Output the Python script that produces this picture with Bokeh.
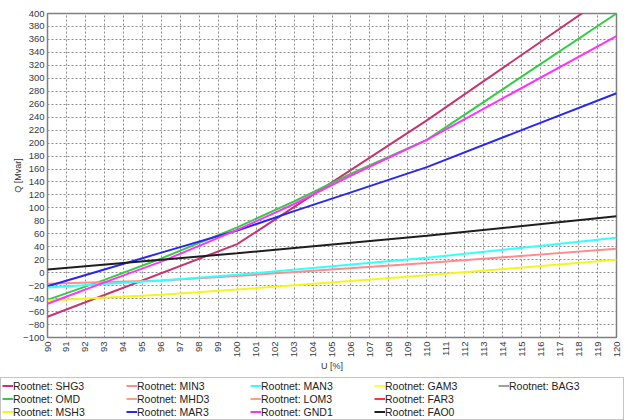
from bokeh.plotting import figure
from bokeh.layouts import column
from bokeh.models import Legend, LegendItem, FixedTicker, Range1d
from bokeh.embed import file_html
from bokeh.resources import INLINE

# ---- data ----
u_shg3 = [90, 100, 110, 120]
q_shg3 = [-68, 44, 235, 437]

u_omd = [90, 93, 96, 100, 103, 106, 110, 120]
q_omd = [-42, -11, 22, 70, 110, 153, 205, 400]

u_msh3 = [90, 96, 100, 110, 120]
q_msh3 = [-43, -34, -26, -4, 20]

u_min3 = [90, 96, 100, 110, 120]
q_min3 = [-17, -12, -5, 15, 37]

u_mhd3, q_mhd3 = [], []

u_mar3 = [90, 93, 96, 100, 103, 106, 110, 115, 120]
q_mar3 = [-21, 5, 31, 65, 95, 124, 163, 220, 277]

u_man3 = [90, 96, 100, 110, 120]
q_man3 = [-23, -12, -3, 23, 54]

u_lom3, q_lom3 = [], []

u_gnd1 = [90, 93, 96, 100, 103, 106, 110, 120]
q_gnd1 = [-48, -15, 17, 66, 106, 150, 205, 365]

u_gam3, q_gam3 = [], []
u_far3, q_far3 = [], []

u_fao0 = [90, 96, 100, 110, 120]
q_fao0 = [5, 20, 30, 57, 87]

u_bag3, q_bag3 = [], []

series = [
    ("Rootnet: SHG3", u_shg3, q_shg3, "#c8346e"),
    ("Rootnet: OMD", u_omd, q_omd, "#33cc44"),
    ("Rootnet: MSH3", u_msh3, q_msh3, "#f5f51e"),
    ("Rootnet: MIN3", u_min3, q_min3, "#ff8c8c"),
    ("Rootnet: MHD3", u_mhd3, q_mhd3, "#ffa070"),
    ("Rootnet: MAR3", u_mar3, q_mar3, "#2828f0"),
    ("Rootnet: MAN3", u_man3, q_man3, "#33ffff"),
    ("Rootnet: LOM3", u_lom3, q_lom3, "#ffa070"),
    ("Rootnet: GND1", u_gnd1, q_gnd1, "#ff33ff"),
    ("Rootnet: GAM3", u_gam3, q_gam3, "#ffff33"),
    ("Rootnet: FAR3", u_far3, q_far3, "#ff3333"),
    ("Rootnet: FAO0", u_fao0, q_fao0, "#1e1e1e"),
    ("Rootnet: BAG3", u_bag3, q_bag3, "#a0a0a0"),
]

x_ticks = list(range(90, 121))
y_ticks = list(range(-100, 401, 20))

FONT = "Liberation Sans"

p = figure(width=637, height=377, output_backend="svg", toolbar_location=None,
           x_range=Range1d(90, 120), y_range=Range1d(-100, 400),
           min_border_left=47, min_border_right=21, min_border_top=13,
           min_border_bottom=40)
p.frame_align = False

p.outline_line_color = "#808080"
p.outline_line_width = 1.5
p.background_fill_color = "white"
p.border_fill_color = "white"

for g in (p.xgrid[0], p.ygrid[0]):
    g.grid_line_color = "#8c8c8c"
    g.grid_line_dash = "2 2"
    g.grid_line_width = 1
p.xgrid[0].ticker = FixedTicker(ticks=x_ticks)
p.ygrid[0].ticker = FixedTicker(ticks=y_ticks)

xa = p.xaxis[0]
xa.ticker = FixedTicker(ticks=x_ticks)
xa.major_label_orientation = 1.5708
xa.axis_label = "U [%]"
ya = p.yaxis[0]
ya.ticker = FixedTicker(ticks=y_ticks)
ya.axis_label = "Q [Mvar]"
for a in (xa, ya):
    a.axis_line_color = None
    a.major_tick_out = 0
    a.major_tick_in = 0
    a.minor_tick_out = 0
    a.minor_tick_in = 0
    a.major_label_text_font = FONT
    a.major_label_text_font_size = "9.5px"
    a.major_label_text_color = "#3a3a3a"
    a.major_label_standoff = 3
    a.axis_label_text_font = FONT
    a.axis_label_text_font_size = "9px"
    a.axis_label_text_font_style = "normal"
    a.axis_label_text_color = "#333333"
xa.major_label_standoff = 4
xa.axis_label_standoff = 1
ya.axis_label_standoff = -3

for name, u, q, col in series:
    p.line(u, q, line_color=col, line_width=2)

# ---- legend strip below the chart (swatches only, no data drawn) ----
lg = figure(width=637, height=43, output_backend="svg", toolbar_location=None,
            x_range=Range1d(0, 1), y_range=Range1d(0, 1),
            x_axis_type=None, y_axis_type=None,
            min_border=0, min_border_left=0, min_border_right=0,
            min_border_top=0, min_border_bottom=0)
lg.frame_align = False
lg.grid.visible = False
lg.outline_line_color = None
lg.border_fill_color = "white"
lg.background_fill_color = "white"

nan = float("nan")
items = []
for name, u, q, col in series:
    r = lg.line([nan], [nan], line_color=col, line_width=2)
    items.append(LegendItem(label=name, renderers=[r]))

legend = Legend(items=items, location="top_left", orientation="vertical", nrows=3,
                spacing=0, padding=1, margin=0,
                glyph_width=11, glyph_height=13, label_height=13,
                label_width=113, label_standoff=0,
                label_text_font=FONT, label_text_font_size="10.5px",
                label_text_color="#222222",
                border_line_color="#8a8a8a", border_line_width=1.5,
                background_fill_color="white", background_fill_alpha=1)
lg.add_layout(legend, "center")

layout = column(p, lg, spacing=0)
open("out.html", "w").write(file_html(layout, INLINE))
